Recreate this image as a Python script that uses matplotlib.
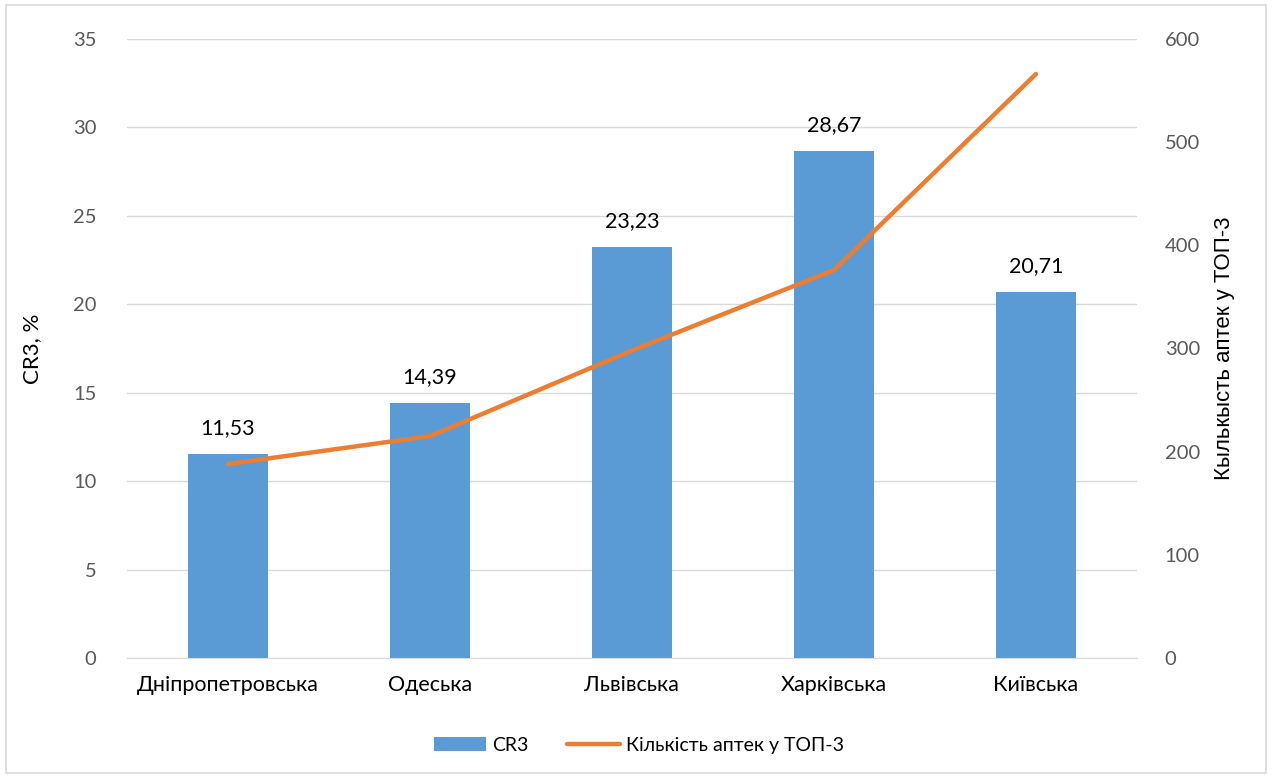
import matplotlib.pyplot as plt
from matplotlib.patches import Rectangle

regions = ['Дніпропетровська', 'Одеська', 'Львівська', 'Харківська', 'Київська']
cr3 = [11.53, 14.39, 23.23, 28.67, 20.71]
pharmacies = [188, 215, 298, 376, 566]

BLUE = '#5B9BD5'
ORANGE = '#ED7D31'
GREY = '#595959'

plt.rcParams['font.family'] = ['Lato', 'DejaVu Sans']

fig = plt.figure(figsize=(12.72, 7.77), dpi=100)
ax = fig.add_axes([0.0998, 0.1532, 0.794, 0.7967])
ax2 = ax.twinx()

x = list(range(len(regions)))
bars = ax.bar(x, cr3, width=0.4, color=BLUE, zorder=2, label='CR3')
for xi, v in zip(x, cr3):
    ax.text(xi, v + 0.9, f'{v:.2f}'.replace('.', ','), ha='center', va='bottom',
            fontsize=15.5, color='black')

line, = ax2.plot(x, pharmacies, color=ORANGE, lw=3.2, solid_capstyle='round',
                 label='Кількість аптек у ТОП-3', zorder=3)

ax.set_xlim(-0.5, len(regions) - 0.5)
ax.set_ylim(0, 35)
ax.set_yticks(range(0, 36, 5))
ax2.set_ylim(0, 600)
ax2.set_yticks(range(0, 601, 100))

ax.yaxis.grid(True, color='#D9D9D9', lw=1, zorder=0)
ax.set_axisbelow(True)
for a in (ax, ax2):
    for s in a.spines.values():
        s.set_visible(False)
ax.spines['bottom'].set_visible(True)
ax.spines['bottom'].set_color('#D9D9D9')

ax.set_xticks(x)
ax.set_xticklabels(regions, fontsize=15.5, color='black')
ax.tick_params(axis='x', length=0, pad=12)
ax.tick_params(axis='y', length=0, labelsize=14.5, labelcolor=GREY, pad=22)
ax2.tick_params(axis='y', length=0, labelsize=14.5, labelcolor=GREY, pad=20)

ax.set_ylabel('CR3, %', fontsize=16, labelpad=22)
ax2.set_ylabel('Кылькысть аптек у ТОП-3', fontsize=16, labelpad=10,
               family=['Liberation Sans Narrow', 'Liberation Sans', 'DejaVu Sans'])

fig.legend(handles=[bars, line], loc='center', bbox_to_anchor=(0.502, 0.041),
           ncol=2, frameon=False, fontsize=14, handlelength=2.7,
           columnspacing=2.0, handletextpad=0.3)

fig.patches.append(Rectangle((0.005, 0.005), 0.99, 0.988, transform=fig.transFigure,
                             fill=False, edgecolor='#D9D9D9', lw=1.2))

fig.savefig('out.png', dpi=100)
